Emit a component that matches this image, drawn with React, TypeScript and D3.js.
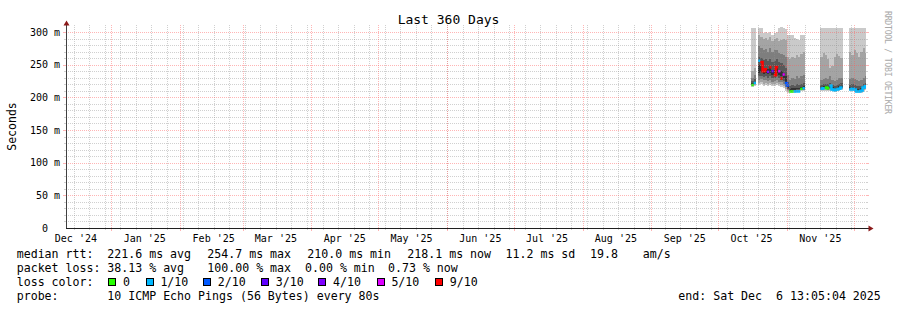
import React from "react";
import * as d3 from "d3";

const title = "Last 360 Days";
const yAxisTitle = "Seconds";
const watermark = "RRDTOOL / TOBI OETIKER";
const startTime = "2024-12-11T13:05:04Z";
const endTime = "2025-12-06T13:05:04Z";
const yMajorTicks = [0, 50, 100, 150, 200, 250, 300];
const yMajorLabels = ["0", "50 m", "100 m", "150 m", "200 m", "250 m", "300 m"];
const yMinorStep = 10;

// daily consolidated data (only days with data)
const days = [
  "2025-10-16", "2025-10-17",
  "2025-10-19", "2025-10-20", "2025-10-21", "2025-10-22", "2025-10-23", "2025-10-24", "2025-10-25",
  "2025-10-26", "2025-10-27", "2025-10-28", "2025-10-29", "2025-10-30", "2025-10-31",
  "2025-11-01", "2025-11-02", "2025-11-03", "2025-11-04", "2025-11-05", "2025-11-06", "2025-11-07", "2025-11-08",
  "2025-11-16", "2025-11-17", "2025-11-18", "2025-11-19", "2025-11-20", "2025-11-21", "2025-11-22", "2025-11-23",
  "2025-11-24", "2025-11-25",
  "2025-11-29", "2025-11-30", "2025-12-01", "2025-12-02", "2025-12-03", "2025-12-04", "2025-12-05", "2025-12-06",
];

const medianMs = [
  219, 222,
  256, 254, 240, 243, 239, 246, 240, 234, 246, 240, 229, 235, 222,
  218, 209, 209, 209, 209, 209, 213, 214,
  213, 214, 215, 214, 218, 212, 211, 212, 213, 215,
  212, 213, 212, 209, 209, 210, 215, 217,
];

// index into lossColors
const lossBucket = [
  0, 1,
  1, 6, 6, 6, 4, 6, 3, 6, 6, 5, 6, 5, 2,
  2, 0, 0, 1, 1, 1, 0, 1,
  1, 1, 0, 0, 1, 1, 1, 1, 1, 1,
  1, 1, 1, 1, 1, 1, 1, 1,
];

// 10 sorted ping rtts per day (ms)
const pingsMs = [
  [216, 218, 219, 220, 221, 222, 225, 230, 240, 306],
  [217, 219, 220, 221, 222, 224, 228, 234, 245, 306],
  [219, 222, 227, 232, 238, 250, 262, 278, 295, 306],
  [220, 223, 228, 233, 239, 248, 260, 276, 292, 306],
  [218, 221, 226, 231, 236, 244, 257, 272, 290, 299],
  [219, 222, 227, 232, 237, 245, 258, 274, 291, 300],
  [218, 221, 225, 230, 235, 243, 255, 270, 288, 298],
  [219, 222, 227, 232, 238, 246, 259, 275, 292, 300],
  [217, 220, 224, 229, 234, 242, 254, 270, 287, 296],
  [218, 221, 225, 230, 235, 243, 256, 272, 290, 299],
  [219, 222, 227, 232, 237, 245, 258, 273, 291, 300],
  [217, 220, 224, 229, 234, 242, 254, 268, 286, 306],
  [216, 219, 223, 227, 232, 240, 252, 266, 288, 307],
  [215, 218, 221, 225, 230, 238, 250, 265, 290, 306],
  [210, 213, 216, 220, 224, 232, 245, 262, 288, 304],
  [207, 209, 211, 213, 215, 218, 224, 234, 262, 296],
  [206, 208, 209, 210, 211, 213, 217, 226, 258, 295],
  [207, 209, 210, 211, 212, 214, 219, 230, 262, 296],
  [207, 209, 210, 211, 212, 214, 218, 228, 260, 291],
  [208, 210, 211, 212, 213, 215, 220, 232, 265, 290],
  [208, 210, 211, 212, 213, 215, 219, 230, 262, 288],
  [209, 211, 212, 213, 214, 216, 221, 233, 266, 296],
  [209, 211, 212, 213, 215, 217, 222, 234, 270, 296],
  [209, 211, 212, 213, 214, 216, 219, 226, 262, 306],
  [210, 212, 213, 214, 215, 217, 220, 228, 268, 306],
  [210, 212, 213, 214, 215, 217, 221, 230, 265, 306],
  [209, 211, 212, 213, 214, 216, 220, 228, 258, 306],
  [210, 212, 213, 214, 216, 218, 222, 232, 245, 306],
  [209, 211, 212, 213, 214, 216, 219, 226, 248, 306],
  [208, 210, 211, 212, 213, 215, 218, 225, 262, 306],
  [209, 211, 212, 213, 214, 216, 219, 227, 266, 306],
  [210, 212, 213, 214, 215, 217, 221, 229, 263, 306],
  [211, 213, 214, 215, 216, 218, 222, 230, 260, 306],
  [209, 211, 212, 213, 214, 216, 219, 228, 270, 306],
  [209, 211, 212, 213, 214, 216, 220, 229, 265, 306],
  [208, 210, 211, 212, 213, 215, 219, 228, 272, 306],
  [206, 208, 209, 210, 211, 213, 217, 226, 268, 306],
  [206, 208, 209, 210, 211, 213, 217, 225, 262, 306],
  [207, 209, 210, 211, 212, 214, 218, 227, 270, 306],
  [210, 212, 213, 214, 215, 217, 221, 230, 275, 306],
  [211, 213, 214, 215, 216, 218, 222, 232, 268, 306],
];

const smokeColors = ["#cacaca", "#a4a4a4", "#7e7e7e", "#585858", "#323232"];
const lossColors = ["#26ff00", "#00b8ff", "#0059ff", "#5e00ff", "#7e00ff", "#dd00ff", "#ff0000"];
const lossLabels = ["0", "1/10", "2/10", "3/10", "4/10", "5/10", "9/10"];

const rttLabel = "median rtt:";
const rttStats = ["221.6 ms avg", "254.7 ms max", "210.0 ms min", "218.1 ms now", "11.2 ms sd", "19.8", "am/s"];
const lossLabel = "packet loss:";
const lossStats = ["38.13 % avg", "100.00 % max", "0.00 % min", "0.73 % now"];
const lossColorLabel = "loss color:";
const probeLabel = "probe:";
const probeText = "10 ICMP Echo Pings (56 Bytes) every 80s";
const endParts = ["end: Sat Dec", "6 13:05:04 2025"];

const MONO = "'DejaVu Sans Mono', monospace";
const GRID = "rgba(143,143,143,0.42)";
const MGRID = "rgba(255,90,90,0.45)";

export default function App() {
  const t0 = new Date(startTime);
  const t1 = new Date(endTime);
  const x = d3.scaleUtc().domain([t0, t1]).range([66, 866]);
  const y = d3.scaleLinear().domain([0, 310]).range([228, 25.5]);
  const parse = d3.utcParse("%Y-%m-%d");
  const fmt = d3.utcFormat("%b '%y");

  const weeks = d3.utcSunday.range(t0, t1);
  const months = d3.utcMonth.range(t0, t1);
  const monthLabels = d3.utcMonth
    .range(d3.utcMonth.floor(t0), t1)
    .map((m) => ({ m, t: d3.utcDay.offset(m, 15) }))
    .filter((o) => o.t >= t0 && o.t <= t1);
  const yMinor = d3.range(0, 301, yMinorStep).filter((v) => v % 50 !== 0);

  const dayData = days.map((s, i) => {
    const d = parse(s)!;
    const e = d3.utcDay.offset(d, 1);
    return {
      d,
      xa: x(d),
      xb: x(e > t1 ? t1 : e),
      pings: pingsMs[i],
      med: medianMs[i],
      loss: lossBucket[i],
    };
  });

  // median runs
  const runs: { c: number; pts: [number, number][] }[] = [];
  let cur: { c: number; pts: [number, number][] } | null = null;
  let prev: Date | null = null;
  dayData.forEach((dd) => {
    const contiguous = prev && +d3.utcDay.offset(prev, 1) === +dd.d;
    if (!cur || cur.c !== dd.loss || !contiguous) {
      cur = { c: dd.loss, pts: [] };
      runs.push(cur);
    }
    const ym = y(dd.med);
    cur.pts.push([dd.xa, ym], [dd.xb, ym]);
    prev = dd.d;
  });
  const line = d3.line();

  const legendX = 16.7;
  const valX = 107.3;
  const rttX = [107.3, 207.3, 307.3, 407.3, 505.5, 590, 642.7];
  const lossX = [107.3, 207.3, 305, 388];
  const boxX = [108.3, 145.7, 203, 261, 318.3, 376.7, 435];
  const LF = 11.6;
  const CW = LF * 0.602;

  return (
    <svg
      width={897}
      height={310}
      style={{ position: "absolute", left: 0, top: 0, background: "#fff" }}
      xmlns="http://www.w3.org/2000/svg"
    >
      <rect x={0} y={0} width={897} height={310} fill="#fff" />

      {/* smoke */}
      <g shapeRendering="crispEdges">
        {dayData.map((dd, i) =>
          smokeColors.map((c, k) => {
            const lo = dd.pings[k];
            const hi = dd.pings[9 - k];
            return (
              <rect
                key={i + "-" + k}
                x={dd.xa}
                width={Math.max(0, dd.xb - dd.xa)}
                y={y(hi)}
                height={y(lo) - y(hi)}
                fill={c}
              />
            );
          })
        )}
      </g>

      {/* median */}
      {runs.map((r, i) => (
        <path
          key={i}
          d={line(r.pts) || ""}
          fill="none"
          stroke={lossColors[r.c]}
          strokeWidth={2.5}
        />
      ))}

      {/* grid */}
      <g shapeRendering="crispEdges" strokeDasharray="1,1">
        {yMinor.map((v) => (
          <line key={"ym" + v} x1={66} x2={866} y1={y(v) + 0.5} y2={y(v) + 0.5} stroke={GRID} />
        ))}
        {weeks.map((w) => (
          <line key={"w" + +w} x1={x(w) + 0.5} x2={x(w) + 0.5} y1={25} y2={228} stroke={GRID} />
        ))}
        {months.map((m) => (
          <line key={"m" + +m} x1={x(m) + 0.5} x2={x(m) + 0.5} y1={25} y2={228} stroke={MGRID} />
        ))}
        {yMajorTicks.filter((v) => v > 0).map((v) => (
          <line key={"yM" + v} x1={66} x2={866} y1={y(v) + 0.5} y2={y(v) + 0.5} stroke={MGRID} />
        ))}
      </g>
      {/* tick marks */}
      <g shapeRendering="crispEdges">
        {yMinor.map((v) => (
          <g key={"tm" + v}>
            <line x1={64} x2={66} y1={y(v) + 0.5} y2={y(v) + 0.5} stroke={GRID} />
            <line x1={866} x2={868} y1={y(v) + 0.5} y2={y(v) + 0.5} stroke={GRID} />
          </g>
        ))}
        {yMajorTicks.filter((v) => v > 0).map((v) => (
          <g key={"tM" + v}>
            <line x1={63} x2={66} y1={y(v) + 0.5} y2={y(v) + 0.5} stroke={MGRID} />
            <line x1={866} x2={869} y1={y(v) + 0.5} y2={y(v) + 0.5} stroke={MGRID} />
          </g>
        ))}
        {weeks.map((w) => (
          <line key={"tw" + +w} x1={x(w) + 0.5} x2={x(w) + 0.5} y1={228} y2={230} stroke={GRID} />
        ))}
        {months.map((m) => (
          <line key={"tmo" + +m} x1={x(m) + 0.5} x2={x(m) + 0.5} y1={228} y2={231} stroke={MGRID} />
        ))}
      </g>

      {/* axes */}
      <g shapeRendering="crispEdges">
        <line x1={66.5} x2={66.5} y1={228.5} y2={24} stroke="#404040" />
        <line x1={66} x2={870} y1={228.5} y2={228.5} stroke="#202020" />
      </g>
      <path d="M66.5,20.5 L63.5,25.5 L69.5,25.5 Z" fill="#8b1a1a" />
      <path d="M873.5,228.5 L868.5,225.5 L868.5,231.5 Z" fill="#8b1a1a" />

      {/* axis labels */}
      <g fontFamily={MONO} fontSize={10} fill="#000">
        {yMajorTicks.map((v, i) => (
          <text key={"yl" + v} x={v === 0 ? 60 - 2 * 6.02 : 60} y={y(v) + 3.8} textAnchor="end">
            {yMajorLabels[i]}
          </text>
        ))}
        {monthLabels.map((o) => (
          <text key={"xl" + +o.m} x={x(o.t)} y={242} textAnchor="middle">
            {fmt(o.m)}
          </text>
        ))}
      </g>

      {/* title & axis title */}
      <text x={448.5} y={23.5} textAnchor="middle" fontFamily={MONO} fontSize={13} fill="#000">
        {title}
      </text>
      <text
        transform="translate(15.5,126.5) rotate(-90)"
        textAnchor="middle"
        fontFamily={MONO}
        fontSize={11.5}
        fill="#000"
      >
        {yAxisTitle}
      </text>
      <text
        transform="translate(884.5,11) rotate(90)"
        fontFamily={MONO}
        fontSize={8.2}
        fill="#a8a8a8"
        textLength={103}
        lengthAdjust="spacing"
      >
        {watermark}
      </text>

      {/* legend */}
      <g fontFamily={MONO} fontSize={LF} fill="#000">
        <text x={legendX} y={258.3}>{rttLabel}</text>
        {rttStats.map((s, i) => (
          <text key={"r" + i} x={rttX[i]} y={258.3}>{s}</text>
        ))}
        <text x={legendX} y={272}>{lossLabel}</text>
        {lossStats.map((s, i) => (
          <text key={"l" + i} x={lossX[i]} y={272}>{s}</text>
        ))}
        <text x={legendX} y={286}>{lossColorLabel}</text>
        {lossLabels.map((s, i) => (
          <text key={"lc" + i} x={boxX[i] + 14.7} y={286}>{s}</text>
        ))}
        <text x={legendX} y={300}>{probeLabel}</text>
        <text x={valX} y={300}>{probeText}</text>
        <text x={678.3} y={300}>{endParts[0]}</text>
        <text x={678.3 + 14 * CW} y={300}>{endParts[1]}</text>
      </g>
      <g shapeRendering="crispEdges">
        {lossColors.map((c, i) => (
          <rect key={"b" + i} x={Math.round(boxX[i]) + 0.5} y={278.5} width={7} height={7} fill={c} stroke="#000" />
        ))}
      </g>
    </svg>
  );
}
